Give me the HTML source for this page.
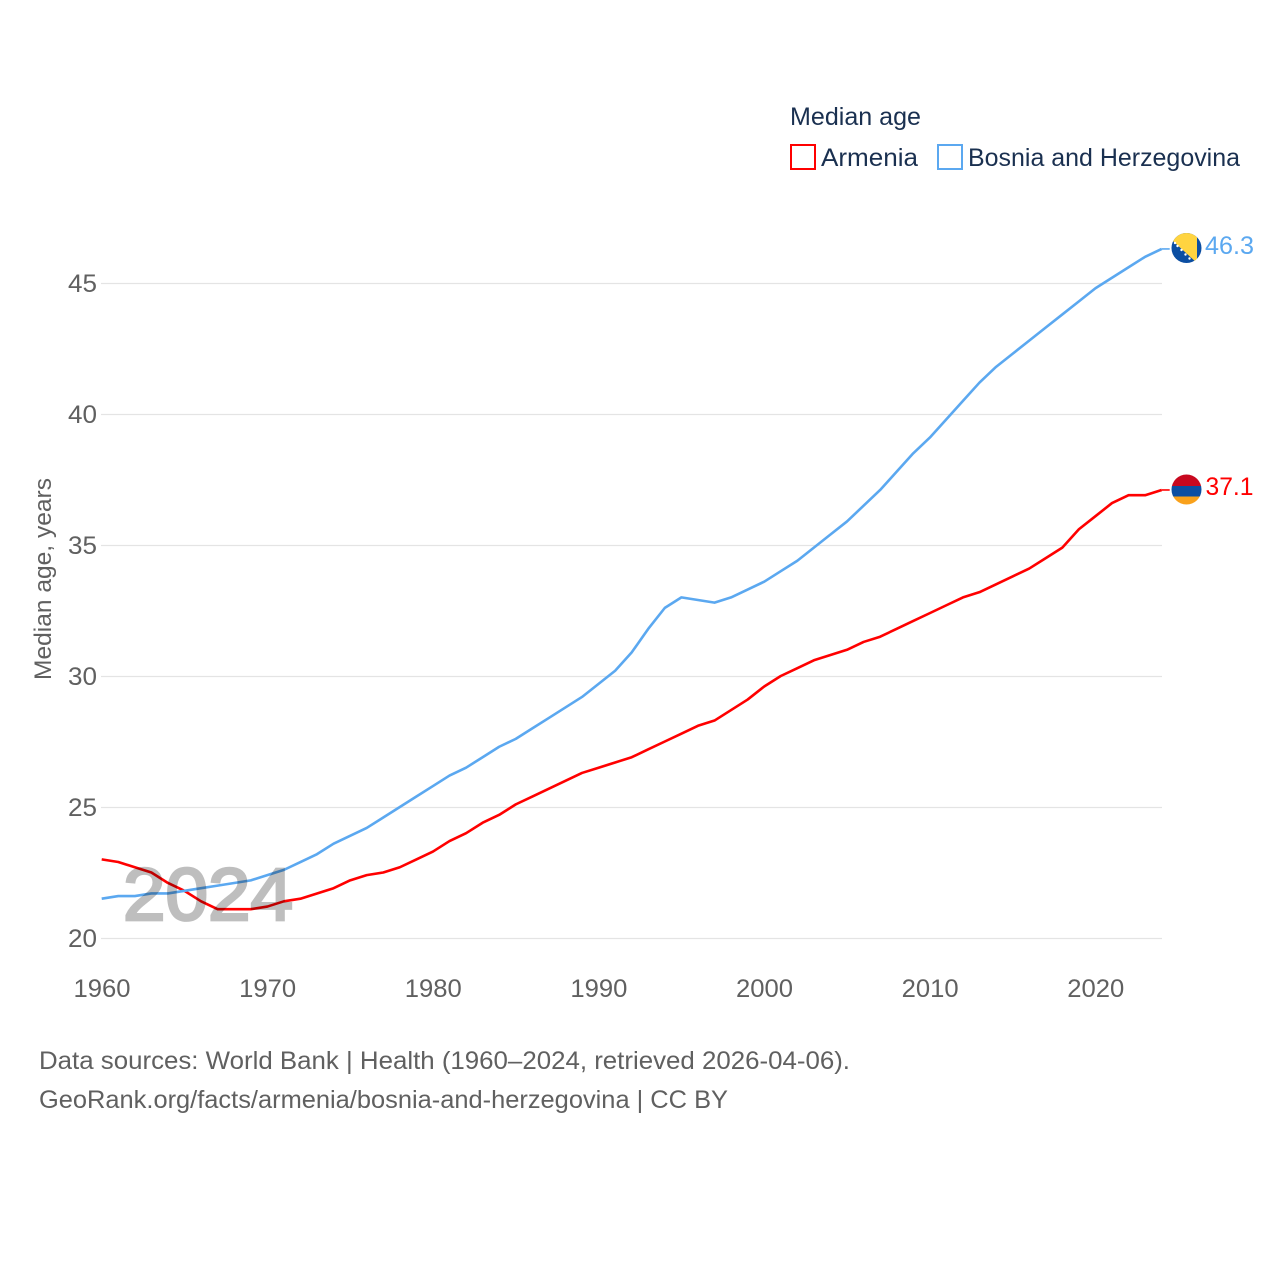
<!DOCTYPE html>
<html lang="en">
<head>
<meta charset="utf-8">
<title>Median age: Armenia and Bosnia and Herzegovina</title>
<style>
html,body{margin:0;padding:0;background:#fff;}
svg{display:block;font-family:"Liberation Sans",sans-serif;}
</style>
</head>
<body>
<svg id="chart" xmlns="http://www.w3.org/2000/svg" width="1280" height="1280" viewBox="0 0 1280 1280">
  <defs>
    <clipPath id="flag-clip-ba"><circle cx="1186.5" cy="248" r="15"/></clipPath>
    <clipPath id="flag-clip-am"><circle cx="1186.5" cy="489.5" r="15"/></clipPath>
  </defs>
  <rect width="1280" height="1280" fill="#fff"/>
  <g id="grid"></g>
  <g id="yticks"></g>
  <g id="xticks"></g>
  <g id="lines" transform="translate(-0.3,-0.5)"></g>

  <text x="123" y="920" font-size="74" fill="#000" stroke="#000" stroke-width="2.8" opacity="0.25" textLength="170" lengthAdjust="spacingAndGlyphs">2024</text>

  <text transform="translate(51,680) rotate(-90)" font-size="24.5" fill="#606060" textLength="202" lengthAdjust="spacingAndGlyphs">Median age, years</text>

  <g>
    <text x="790" y="125" font-size="25" fill="#1a3050" textLength="131" lengthAdjust="spacingAndGlyphs">Median age</text>
    <g>
      <rect x="791" y="145" width="24" height="24" fill="none" stroke="#ff0000" stroke-width="2"/>
      <text x="821" y="166" font-size="25" fill="#1a3050" textLength="97" lengthAdjust="spacingAndGlyphs">Armenia</text>
    </g>
    <g>
      <rect x="938" y="145" width="24" height="24" fill="none" stroke="#5ba8f0" stroke-width="2"/>
      <text x="968" y="166" font-size="25" fill="#1a3050" textLength="272" lengthAdjust="spacingAndGlyphs">Bosnia and Herzegovina</text>
    </g>
  </g>

  <g clip-path="url(#flag-clip-ba)">
    <rect x="1170" y="232" width="34" height="32" fill="#0b4ea2"/>
    <polygon points="1168,232 1168,236.5 1197,263 1197,232" fill="#ffd440"/>
    <g fill="#fff">
      <circle cx="1175" cy="243" r="1.2"/>
      <circle cx="1177.5" cy="246" r="1.2"/>
      <circle cx="1181.5" cy="250" r="1.2"/>
      <circle cx="1185.5" cy="254.5" r="1.2"/>
      <circle cx="1189.5" cy="258.5" r="1.2"/>
    </g>
  </g>
  <g clip-path="url(#flag-clip-am)">
    <rect x="1170" y="473" width="34" height="13" fill="#c8081f"/>
    <rect x="1170" y="486" width="34" height="10.5" fill="#0b4ea2"/>
    <rect x="1170" y="496.5" width="34" height="10" fill="#f9a11b"/>
  </g>

  <text id="value-ba" x="1205" y="254" font-size="25" fill="#5ba8f0" textLength="49" lengthAdjust="spacingAndGlyphs"></text>
  <text id="value-am" x="1205.5" y="495" font-size="25" fill="#ff0000" textLength="48" lengthAdjust="spacingAndGlyphs"></text>

  <g>
    <text x="39" y="1069" font-size="25" fill="#606060" textLength="811" lengthAdjust="spacingAndGlyphs">Data sources: World Bank | Health (1960–2024, retrieved 2026-04-06).</text>
    <text x="39" y="1108" font-size="25" fill="#606060" textLength="689" lengthAdjust="spacingAndGlyphs">GeoRank.org/facts/armenia/bosnia-and-herzegovina | CC BY</text>
  </g>
</svg>
<script>
const firstYear = 1960;
const xTickYears = [1960, 1970, 1980, 1990, 2000, 2010, 2020];
const yTickValues = [20, 25, 30, 35, 40, 45];
const armeniaValues = [23.0,22.9,22.7,22.5,22.1,21.8,21.4,21.1,21.1,21.1,21.2,21.4,21.5,21.7,21.9,22.2,22.4,22.5,22.7,23.0,23.3,23.7,24.0,24.4,24.7,25.1,25.4,25.7,26.0,26.3,26.5,26.7,26.9,27.2,27.5,27.8,28.1,28.3,28.7,29.1,29.6,30.0,30.3,30.6,30.8,31.0,31.3,31.5,31.8,32.1,32.4,32.7,33.0,33.2,33.5,33.8,34.1,34.5,34.9,35.6,36.1,36.6,36.9,36.9,37.1];
const bosniaValues = [21.5,21.6,21.6,21.7,21.7,21.8,21.9,22.0,22.1,22.2,22.4,22.6,22.9,23.2,23.6,23.9,24.2,24.6,25.0,25.4,25.8,26.2,26.5,26.9,27.3,27.6,28.0,28.4,28.8,29.2,29.7,30.2,30.9,31.8,32.6,33.0,32.9,32.8,33.0,33.3,33.6,34.0,34.4,34.9,35.4,35.9,36.5,37.1,37.8,38.5,39.1,39.8,40.5,41.2,41.8,42.3,42.8,43.3,43.8,44.3,44.8,45.2,45.6,46.0,46.3];

const NS = 'http://www.w3.org/2000/svg';
const xScale = function (year) { return 102 + (year - 1960) * (1162 - 102) / 64; };
const yScale = function (v) { return 938.5 - (v - 20) * (938.5 - 283.5) / 25; };

const grid = document.getElementById('grid');
const yticks = document.getElementById('yticks');
const xticks = document.getElementById('xticks');
const lines = document.getElementById('lines');

yTickValues.forEach(function (v) {
  const gl = document.createElementNS(NS, 'line');
  
  
  gl.setAttribute('x1', 101);
  gl.setAttribute('x2', 1162);
  gl.setAttribute('y1', yScale(v));
  gl.setAttribute('y2', yScale(v));
  gl.setAttribute('stroke', '#e4e4e4');
  gl.setAttribute('stroke-width', '1.3');
  grid.appendChild(gl);

  const t = document.createElementNS(NS, 'text');
  
  
  t.setAttribute('x', 97);
  t.setAttribute('y', yScale(v) + 8.5);
  t.setAttribute('text-anchor', 'end');
  t.setAttribute('font-size', '25');
  t.setAttribute('fill', '#606060');
  t.setAttribute('textLength', '29');
  t.setAttribute('lengthAdjust', 'spacingAndGlyphs');
  t.textContent = String(v);
  yticks.appendChild(t);
});

xTickYears.forEach(function (y) {
  const t = document.createElementNS(NS, 'text');
  
  
  t.setAttribute('x', xScale(y));
  t.setAttribute('y', 997);
  t.setAttribute('text-anchor', 'middle');
  t.setAttribute('font-size', '25');
  t.setAttribute('fill', '#606060');
  t.setAttribute('textLength', '57');
  t.setAttribute('lengthAdjust', 'spacingAndGlyphs');
  t.textContent = String(y);
  xticks.appendChild(t);
});

function buildPoints(values) {
  return values.map(function (v, i) {
    return xScale(firstYear + i).toFixed(2) + ',' + yScale(v).toFixed(2);
  }).join(' ');
}

const armeniaLine = document.createElementNS(NS, 'polyline');


armeniaLine.setAttribute('points', buildPoints(armeniaValues));
armeniaLine.setAttribute('fill', 'none');
armeniaLine.setAttribute('stroke', '#ff0000');
armeniaLine.setAttribute('stroke-width', '2.6');
armeniaLine.setAttribute('stroke-linejoin', 'round');
lines.appendChild(armeniaLine);

const bosniaLine = document.createElementNS(NS, 'polyline');


bosniaLine.setAttribute('points', buildPoints(bosniaValues));
bosniaLine.setAttribute('fill', 'none');
bosniaLine.setAttribute('stroke', '#5ba8f0');
bosniaLine.setAttribute('stroke-width', '2.6');
bosniaLine.setAttribute('stroke-linejoin', 'round');
lines.appendChild(bosniaLine);

const armeniaLast = armeniaValues[armeniaValues.length - 1];
const bosniaLast = bosniaValues[bosniaValues.length - 1];

const armeniaConnector = document.createElementNS(NS, 'line');


armeniaConnector.setAttribute('x1', 1162);
armeniaConnector.setAttribute('x2', 1170);
armeniaConnector.setAttribute('y1', yScale(armeniaLast));
armeniaConnector.setAttribute('y2', yScale(armeniaLast));
armeniaConnector.setAttribute('stroke', '#ff0000');
armeniaConnector.setAttribute('stroke-width', '1.6');
lines.appendChild(armeniaConnector);

const bosniaConnector = document.createElementNS(NS, 'line');


bosniaConnector.setAttribute('x1', 1162);
bosniaConnector.setAttribute('x2', 1170);
bosniaConnector.setAttribute('y1', yScale(bosniaLast));
bosniaConnector.setAttribute('y2', yScale(bosniaLast));
bosniaConnector.setAttribute('stroke', '#5ba8f0');
bosniaConnector.setAttribute('stroke-width', '1.6');
lines.appendChild(bosniaConnector);

document.getElementById('value-am').textContent = armeniaLast.toFixed(1);
document.getElementById('value-ba').textContent = bosniaLast.toFixed(1);
</script>
</body>
</html>
